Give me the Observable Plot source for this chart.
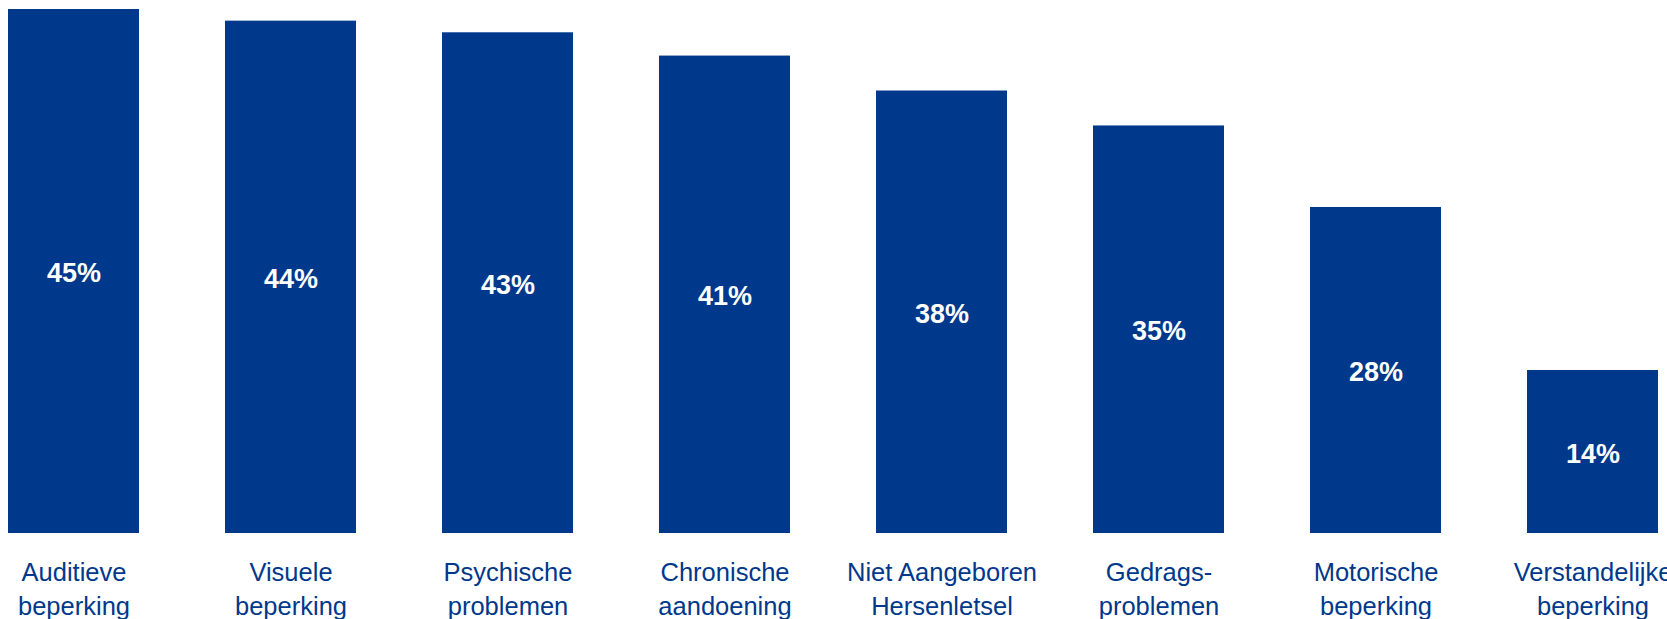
<!DOCTYPE html>
<html>
<head>
<meta charset="utf-8">
<script src="https://cdn.jsdelivr.net/npm/d3@7"></script>
<script src="https://cdn.jsdelivr.net/npm/@observablehq/plot@0.6"></script>
<style>
  html, body { margin: 0; padding: 0; background: #fff; }
  #chart svg { display: block; }
</style>
</head>
<body>
<div id="chart"></div>
<script>
const categories = [
  "Auditieve\nbeperking",
  "Visuele\nbeperking",
  "Psychische\nproblemen",
  "Chronische\naandoening",
  "Niet Aangeboren\nHersenletsel",
  "Gedrags-\nproblemen",
  "Motorische\nbeperking",
  "Verstandelijke\nbeperking"
];
const values = [45, 44, 43, 41, 38, 35, 28, 14];

const data = categories.map((c, i) => ({cat: c, value: values[i]}));
const blue = "#00388B";

const chart = Plot.plot({
  width: 1667,
  height: 619,
  marginTop: 9,
  marginBottom: 86,
  marginLeft: 0,
  marginRight: 0,
  style: {fontFamily: "'Liberation Sans', Arial, sans-serif", background: "#fff", overflow: "visible"},
  x: {domain: categories, paddingInner: 0.396, paddingOuter: 0.039, axis: null},
  y: {domain: [0, 45], axis: null},
  marks: [
    Plot.barY(data, {x: "cat", y: "value", fill: blue}),
    Plot.text(data, {
      x: "cat",
      y: d => d.value / 2,
      text: d => d.value + "%",
      fill: "white",
      fontSize: 27,
      fontWeight: "bold",
      dy: 2
    }),
    Plot.axisX({
      tickSize: 0,
      tickPadding: 24,
      fontSize: 25.5,
      lineHeight: 1.32,
      color: blue,
      label: null
    })
  ]
});
document.getElementById("chart").appendChild(chart);
</script>
</body>
</html>
